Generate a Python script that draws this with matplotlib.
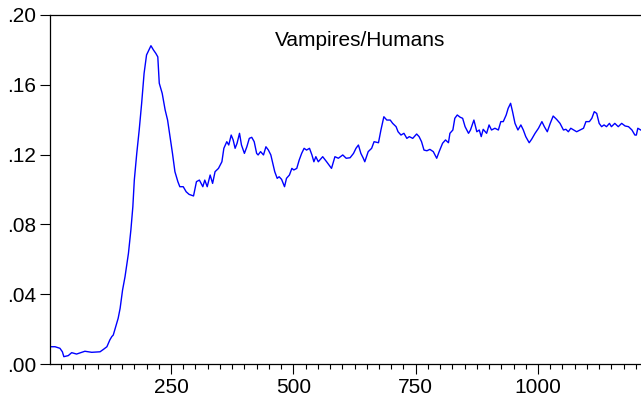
import numpy as np
import matplotlib
matplotlib.use("Agg")
import matplotlib.pyplot as plt
from matplotlib.ticker import MultipleLocator, FuncFormatter

# ratio series
step = [5, 13, 23, 28, 31, 40, 47, 57, 74, 88, 105, 112, 119, 125, 129, 132, 137, 142,
        146, 151, 156, 163, 168, 172, 175, 180, 185, 190, 195, 200, 205, 209, 214, 219, 223,
        226, 232, 238, 243, 248, 253, 258, 264, 268, 275, 281, 287, 294,
        296, 302, 308, 315, 319, 324, 330, 335, 340, 347, 354, 358, 364, 368, 373, 377, 381,
        385, 390, 394, 400, 405, 410, 415, 420, 425, 428, 433, 439, 444, 449, 454, 458, 462,
        467, 471, 476, 482, 486, 492, 497, 501, 507, 512, 517, 522, 527, 533, 538, 542, 546,
        551, 560, 568, 578, 585, 592, 601, 608, 616, 623, 628, 633, 638, 643, 646, 653, 660,
        665, 674, 679, 685, 691, 698, 703, 710, 714, 720, 726, 732, 737, 744, 752, 757, 762,
        767, 773, 779, 786, 793, 798, 805, 811, 817, 820, 826, 830, 835, 841, 846, 851, 858,
        862, 869, 875, 880, 884, 888, 895, 900, 905, 912, 919, 924, 929, 935, 939, 944, 948,
        953, 959, 965, 970, 975, 982, 987, 994, 1001, 1008, 1013, 1019, 1025, 1031, 1038,
        1045, 1052, 1057, 1062, 1067, 1073, 1079, 1086, 1093, 1098, 1105, 1110, 1115, 1120,
        1125, 1130, 1135, 1140, 1146, 1150, 1157, 1164, 1171, 1178, 1185, 1192, 1198, 1201,
        1204, 1210]
ratio = [0.0099, 0.0099, 0.0090, 0.0070, 0.0042, 0.0048, 0.0065, 0.0057, 0.0073, 0.0067,
         0.0070, 0.0084, 0.0099, 0.0138, 0.0157, 0.0166, 0.0214, 0.0262,
         0.0319, 0.0424, 0.0500, 0.0634, 0.0768, 0.0901, 0.1054, 0.1207, 0.1341, 0.1494,
         0.1666, 0.1771, 0.1800, 0.1824, 0.1800, 0.1780, 0.1760,
         0.1609, 0.1551, 0.1456, 0.1398, 0.1303, 0.1207, 0.1102, 0.1045, 0.1016, 0.1016,
         0.0987, 0.0972, 0.0965,
         0.0963, 0.1045, 0.1054, 0.1016, 0.1054, 0.1016, 0.1083, 0.1035, 0.1102, 0.1121,
         0.1159, 0.1236, 0.1274, 0.1255, 0.1312, 0.1284, 0.1236,
         0.1265, 0.1322, 0.1255, 0.1207, 0.1245, 0.1293, 0.1299, 0.1274, 0.1207, 0.1198,
         0.1217, 0.1198, 0.1245, 0.1226, 0.1198, 0.1150, 0.1102,
         0.1064, 0.1073, 0.1058, 0.1016, 0.1064, 0.1083, 0.1121, 0.1112, 0.1121, 0.1169,
         0.1207, 0.1236, 0.1226, 0.1236, 0.1198, 0.1159, 0.1188,
         0.1159, 0.1188, 0.1159, 0.1121, 0.1188, 0.1179, 0.1198, 0.1179, 0.1182, 0.1207,
         0.1236, 0.1255, 0.1207, 0.1179, 0.1159, 0.1217, 0.1236,
         0.1274, 0.1268, 0.1341, 0.1417, 0.1398, 0.1398, 0.1379, 0.1360, 0.1331, 0.1312,
         0.1322, 0.1293, 0.1303, 0.1293, 0.1318, 0.1303, 0.1274,
         0.1226, 0.1222, 0.1230, 0.1217, 0.1179, 0.1217, 0.1265, 0.1284, 0.1268, 0.1322,
         0.1341, 0.1408, 0.1427, 0.1414, 0.1408, 0.1360, 0.1322,
         0.1341, 0.1398, 0.1331, 0.1341, 0.1303, 0.1345, 0.1322, 0.1370, 0.1341, 0.1351,
         0.1341, 0.1389, 0.1389, 0.1427, 0.1465, 0.1494, 0.1446,
         0.1379, 0.1341, 0.1370, 0.1341, 0.1303, 0.1268, 0.1288, 0.1322, 0.1351, 0.1389,
         0.1360, 0.1331, 0.1379, 0.1421, 0.1402,
         0.1379, 0.1341, 0.1345, 0.1331, 0.1351, 0.1341, 0.1331, 0.1341, 0.1351, 0.1389,
         0.1389, 0.1408, 0.1446, 0.1436,
         0.1379, 0.1360, 0.1370, 0.1360, 0.1379, 0.1360, 0.1379, 0.1360, 0.1379, 0.1364,
         0.1360, 0.1341, 0.1312, 0.1312,
         0.1351, 0.1341]

yticks = [0.00, 0.04, 0.08, 0.12, 0.16, 0.20]
xticks = [250, 500, 750, 1000]

plt.rcParams["font.family"] = ["Liberation Sans", "DejaVu Sans"]

fig = plt.figure(figsize=(6.41, 4.05), dpi=100)
ax = fig.add_axes([50 / 641, 41 / 405, 591 / 641, 349 / 405])
ax.plot(step, ratio, color="#0000ff", lw=1.0)

ax.set_xlim(2.7, 1210.5)
ax.set_ylim(0, 0.20)
ax.set_yticks(yticks)
ax.yaxis.set_major_formatter(FuncFormatter(lambda v, p: f"{v:.2f}".lstrip("0")))
ax.set_xticks(xticks)
ax.xaxis.set_minor_locator(MultipleLocator(25))
ax.tick_params(axis="both", which="major", direction="out", length=7, width=0.8,
               labelsize=15, pad=3, color="black")
ax.tick_params(axis="x", which="minor", direction="out", length=3.5, width=0.8)
ax.spines["right"].set_visible(False)
for s in ["left", "top", "bottom"]:
    ax.spines[s].set_linewidth(0.9)

ax.text(0.525, 0.928, "Vampires/Humans", transform=ax.transAxes, ha="center",
        va="center", fontsize=15)

fig.savefig("out.png", dpi=100)
